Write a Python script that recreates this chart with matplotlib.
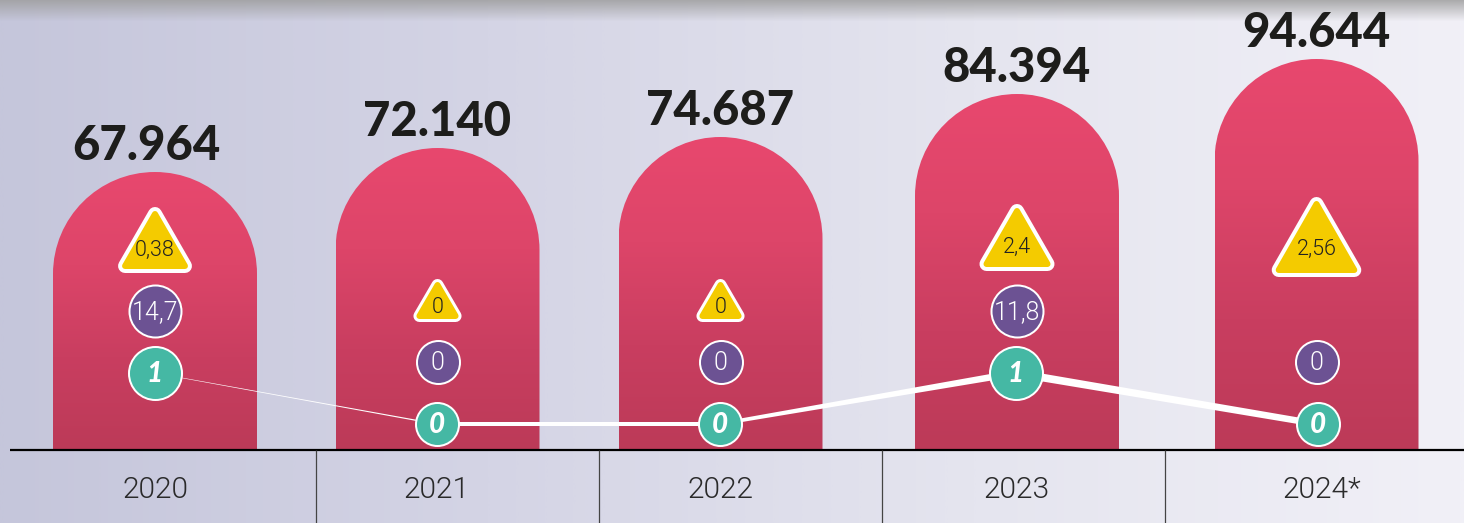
import numpy as np
import matplotlib
matplotlib.use("Agg")
import matplotlib.pyplot as plt
from matplotlib.colors import LinearSegmentedColormap
from matplotlib.patches import PathPatch, Polygon
from matplotlib.path import Path

plt.rcParams["font.family"] = ["Lato", "DejaVu Sans"]

# values
years = ["2020", "2021", "2022", "2023", "2024*"]
totals = [67964, 72140, 74687, 84394, 94644]
bar_heights = [278, 302, 313, 356, 391]
triangle_values = ["0,38", "0", "0", "2,4", "2,56"]
triangle_heights = [66, 43, 43, 67, 80]
circle_values = ["14,7", "0", "0", "11,8", "0"]
line_values = [1, 0, 0, 1, 0]

# layout in pixels (1 unit = 1 px, y measured up from the base line)
BASE = 450
bar_x = [155, 437.5, 720.5, 1017, 1316.5]
total_shift = [-9, 0, 0, 0, 0]
year_shift = [0, -1, 0, 0, 5]
triangle_base = [177, 128, 128, 179, 173]
dividers = [316, 599, 882, 1165]
BAR_W = 204
line_w = [(0.4, 1.3), (3.3, 3.3), (3.5, 7), (8, 6.5)]
THIN = "Roboto"

bar_cmap = LinearSegmentedColormap.from_list("bar", ["#E8486E", "#DD4569", "#C93E60", "#BC3A58"])
bg_cmap = LinearSegmentedColormap.from_list("bg", ["#C5C6DB", "#D4D4E5", "#E5E5EF", "#F1F0F7"])


def fmt_total(v):
    return f"{v:,}".replace(",", ".")


def draw_background(ax):
    grad = np.linspace(0, 1, 512)[None, :]
    ax.imshow(grad, cmap=bg_cmap, extent=(0, 1464, BASE - 523, BASE), aspect="auto", zorder=0)
    # grey shadow along the top edge
    shade = np.zeros((64, 2, 4))
    shade[..., :3] = 0.62
    shade[..., 3] = np.clip(np.linspace(0.85, -0.1, 64), 0, 1)[:, None]
    ax.imshow(shade, extent=(0, 1464, BASE - 24, BASE), aspect="auto", zorder=1)


def draw_bar(ax, x, height):
    r = BAR_W / 2
    k = 0.5523 * r
    left, right = x - r, x + r
    shoulder = height - r
    verts = [(left, 0), (left, shoulder),
             (left, shoulder + k), (x - k, height), (x, height),
             (x + k, height), (right, shoulder + k), (right, shoulder),
             (right, 0), (left, 0)]
    codes = [Path.MOVETO, Path.LINETO, Path.CURVE4, Path.CURVE4, Path.CURVE4,
             Path.CURVE4, Path.CURVE4, Path.CURVE4, Path.LINETO, Path.CLOSEPOLY]
    patch = PathPatch(Path(verts, codes), fc="none", ec="none", zorder=2)
    ax.add_patch(patch)
    im = ax.imshow(np.linspace(0, 1, 256)[:, None], cmap=bar_cmap,
                   extent=(left, right, 0, height), aspect="auto", zorder=2)
    im.set_clip_path(patch)


def draw_line(ax, xs, ys):
    # each stretch of the line gets wider towards the right
    for i in range(len(xs) - 1):
        w0, w1 = line_w[i]
        pts = [(xs[i], ys[i] + w0 / 2), (xs[i + 1], ys[i + 1] + w1 / 2),
               (xs[i + 1], ys[i + 1] - w1 / 2), (xs[i], ys[i] - w0 / 2)]
        ax.add_patch(Polygon(pts, closed=True, fc="white", ec="none", zorder=3))


def draw_circle(ax, x, y, r, color, border):
    ax.scatter([x], [y], s=(2 * (r - border / 2) * 0.72) ** 2, c=color, edgecolors="white",
               linewidths=border * 0.72, zorder=4)


def draw_triangle(ax, x, base, height, text):
    # outer width follows the height, corners are rounded by the stroke
    border = 4 if height > 50 else 3
    corner = 3
    pad = corner + border
    w = height * 1.12 - 2 * pad
    h = height - 2 * pad
    b = base + pad
    pts = [(x - w / 2, b), (x + w / 2, b), (x, b + h)]
    ax.add_patch(Polygon(pts, closed=True, fc="white", ec="white", zorder=4,
                         lw=2 * pad * 0.72, joinstyle="round"))
    ax.add_patch(Polygon(pts, closed=True, fc="#F4CB00", ec="#F4CB00", zorder=4,
                         lw=2 * corner * 0.72, joinstyle="round"))
    ax.text(x, base + 0.36 * height - 1, text, ha="center", va="center", fontsize=15.5,
            color="#222222", family=THIN, fontweight=300, zorder=5)


fig = plt.figure(figsize=(14.64, 5.23), dpi=100)
ax = fig.add_axes([0, 0, 1, 1])
draw_background(ax)

for x, h, total, dx in zip(bar_x, bar_heights, totals, total_shift):
    draw_bar(ax, x, h)
    ax.text(x + dx, h + 26, fmt_total(total), ha="center", va="center", fontsize=34,
            fontweight="black", color="#1D1D1B", zorder=5)

# teal line, 51 px per unit above its own floor
line_y = [26 + 51 * v for v in line_values]
line_x = [155, 436.5, 719.5, 1015.5, 1317.5]
draw_line(ax, line_x, line_y)

for x, y, v in zip(line_x, line_y, line_values):
    draw_circle(ax, x, y, 27.5 if v else 22.5, "#45B8A4", 2)
    ax.text(x, y - 1, str(v), ha="center", va="center", fontsize=20, fontweight="black",
            style="italic", color="white", zorder=5)

for x, v in zip(bar_x, circle_values):
    big = v != "0"
    y = 139 if big else 88
    draw_circle(ax, x, y, 27 if big else 22.5, "#6C5293", 2)
    ax.text(x, y - 1, v, ha="center", va="center", fontsize=18, family=THIN, fontweight=300,
            color="white", zorder=5)

for x, base, h, v in zip(bar_x, triangle_base, triangle_heights, triangle_values):
    draw_triangle(ax, x, base, h, v)

ax.plot([10, 1464], [0, 0], color="black", lw=1.6, zorder=6, solid_capstyle="butt")
ax.vlines(dividers, BASE - 523, 0, color="#444444", lw=0.9, zorder=6)
for x, dx, year in zip(bar_x, year_shift, years):
    ax.text(x + dx, -39.5, year, ha="center", va="center", fontsize=21.5, family=THIN, fontweight=300,
            color="#2A2A2A", zorder=6)

ax.set_xlim(0, 1464)
ax.set_ylim(BASE - 523, BASE)
ax.axis("off")
fig.savefig("out.png", dpi=100)
